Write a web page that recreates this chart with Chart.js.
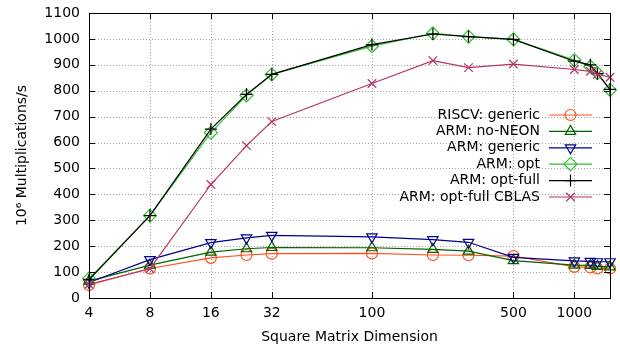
<!DOCTYPE html>
<html lang="en">
<head>
<meta charset="UTF-8">
<title>Matrix multiplication throughput</title>
<script src="https://cdn.jsdelivr.net/npm/chart.js@4"></script>
<style>
  html, body { margin: 0; padding: 0; background: #fff; }
  #wrap { width: 620px; height: 352px; }
</style>
</head>
<body>
<div id="wrap"><canvas id="chart" width="620" height="352"></canvas></div>
<script>
// matrix sizes (x) and throughput in 10^6 multiplications/s
const sizes = [4, 8, 16, 24, 32, 100, 200, 300, 500, 1000, 1200, 1300, 1500];
const riscvGeneric = [50, 114, 155, 166, 171, 172, 166, 165, 162, 120, 118, 114, 114];
const armNoNeon = [65, 127, 177, 190, 195, 194, 188, 181, 144, 127, 126, 122, 120];
const armGeneric = [60, 148, 214, 232, 242, 236, 225, 215, 157, 143, 141, 140, 140];
const armOpt = [75, 318, 638, 782, 863, 972, 1021, 1009, 998, 918, 893, 868, 803];
const armOptFull = [70, 318, 652, 786, 863, 978, 1019, 1009, 998, 914, 900, 866, 805];
const armCblas = [53, 113, 438, 588, 681, 828, 916, 889, 903, 882, 875, 863, 852];

const xTicks = [4, 8, 16, 32, 100, 500, 1000];
const yTicks = [0, 100, 200, 300, 400, 500, 600, 700, 800, 900, 1000, 1100];

const seriesLabels = ['RISCV: generic', 'ARM: no-NEON', 'ARM: generic', 'ARM: opt', 'ARM: opt-full', 'ARM: opt-full CBLAS'];
const seriesValues = [riscvGeneric, armNoNeon, armGeneric, armOpt, armOptFull, armCblas];
const colors = ['#ff5020', '#006400', '#00008b', '#30c030', '#000000', '#b8336a'];
const styles = ['circle', 'triangle', 'triangle', 'rectRot', 'cross', 'crossRot'];
const rotations = [0, 0, 180, 0, 0, 0];
const radii = [5.5, 6, 6, 6.5, 6, 6];

const FONT = 'DejaVu Sans';
const FS = 14;

const datasets = seriesLabels.map((label, i) => ({
    label,
    data: sizes.map((x, j) => ({ x, y: seriesValues[i][j] })),
    borderColor: colors[i],
    backgroundColor: 'rgba(0,0,0,0)',
    borderWidth: 1.2,
    pointStyle: styles[i],
    pointRotation: rotations[i],
    pointRadius: radii[i],
    pointBorderWidth: 1.2,
    pointBorderColor: colors[i],
    pointBackgroundColor: 'rgba(0,0,0,0)',
    tension: 0,
    clip: false,
    order: 6 - i
}));

// dotted grid behind the data
const gridPlugin = {
    id: 'dotgrid',
    beforeDatasetsDraw(chart) {
        const { ctx, chartArea: a, scales } = chart;
        ctx.save();
        ctx.strokeStyle = '#a8a8a8';
        ctx.lineWidth = 1;
        ctx.setLineDash([1, 2]);
        ctx.beginPath();
        xTicks.slice(1).forEach(v => {
            const x = Math.round(scales.x.getPixelForValue(v)) + 0.5;
            ctx.moveTo(x, a.top); ctx.lineTo(x, a.bottom);
        });
        yTicks.slice(1, -1).forEach(v => {
            const y = Math.round(scales.y.getPixelForValue(v)) + 0.5;
            ctx.moveTo(a.left, y); ctx.lineTo(a.right, y);
        });
        ctx.stroke();
        ctx.restore();
    }
};

// gnuplot-like frame, mirrored inward ticks and key
const framePlugin = {
    id: 'frame',
    afterDraw(chart) {
        const { ctx, chartArea: a, scales } = chart;
        ctx.save();
        ctx.strokeStyle = '#000';
        ctx.lineWidth = 1;
        ctx.strokeRect(Math.round(a.left) + 0.5, Math.round(a.top) + 0.5,
            Math.round(a.right - a.left), Math.round(a.bottom - a.top));
        ctx.beginPath();
        xTicks.forEach(v => {
            const x = Math.round(scales.x.getPixelForValue(v)) + 0.5;
            ctx.moveTo(x, a.bottom); ctx.lineTo(x, a.bottom - 6);
            ctx.moveTo(x, a.top); ctx.lineTo(x, a.top + 6);
        });
        yTicks.forEach(v => {
            const y = Math.round(scales.y.getPixelForValue(v)) + 0.5;
            ctx.moveTo(a.left, y); ctx.lineTo(a.left + 6, y);
            ctx.moveTo(a.right, y); ctx.lineTo(a.right - 6, y);
        });
        ctx.stroke();

        // key
        ctx.font = FS + 'px "' + FONT + '"';
        ctx.textAlign = 'right';
        ctx.textBaseline = 'middle';
        seriesLabels.forEach((label, i) => {
            const y = 115 + i * 16.4;
            ctx.fillStyle = '#000';
            ctx.fillText(label, 540, y);
            ctx.strokeStyle = colors[i];
            ctx.lineWidth = 1.2;
            ctx.beginPath();
            ctx.moveTo(549, y); ctx.lineTo(592, y);
            ctx.stroke();
            ctx.fillStyle = 'rgba(0,0,0,0)';
            Chart.helpers.drawPoint(ctx, {
                pointStyle: styles[i], rotation: rotations[i], radius: radii[i], borderWidth: 1.2
            }, 570.5, y);
        });
        ctx.restore();
    }
};

new Chart(document.getElementById('chart'), {
    type: 'line',
    data: { datasets },
    options: {
        responsive: false,
        animation: false,
        layout: { padding: { top: 13, right: 10, left: 0, bottom: 0 } },
        plugins: { legend: { display: false }, tooltip: { enabled: false } },
        scales: {
            x: {
                type: 'logarithmic',
                min: 4,
                max: 1500,
                afterBuildTicks: s => { s.ticks = xTicks.map(v => ({ value: v })); },
                afterFit: s => { s.height = 54; s.paddingLeft = 0; s.paddingRight = 0; },
                ticks: {
                    autoSkip: false,
                    maxRotation: 0,
                    padding: 7,
                    color: '#000',
                    font: { family: FONT, size: FS },
                    callback: v => String(v)
                },
                grid: { display: false, drawTicks: false },
                border: { display: false },
                title: {
                    display: true,
                    text: 'Square Matrix Dimension',
                    color: '#000',
                    font: { family: FONT, size: FS },
                    padding: { top: 6, bottom: 6 }
                }
            },
            y: {
                min: 0,
                max: 1100,
                afterBuildTicks: s => { s.ticks = yTicks.map(v => ({ value: v })); },
                afterFit: s => { s.width = 89; s.paddingTop = 0; s.paddingBottom = 0; },
                ticks: {
                    padding: 9,
                    color: '#000',
                    font: { family: FONT, size: FS },
                    callback: v => String(v)
                },
                grid: { display: false, drawTicks: false },
                border: { display: false },
                title: {
                    display: true,
                    text: '10⁶ Multiplications/s',
                    color: '#000',
                    font: { family: FONT, size: FS },
                    padding: { top: 14, bottom: 14 }
                }
            }
        }
    },
    plugins: [gridPlugin, framePlugin]
});
</script>
</body>
</html>
